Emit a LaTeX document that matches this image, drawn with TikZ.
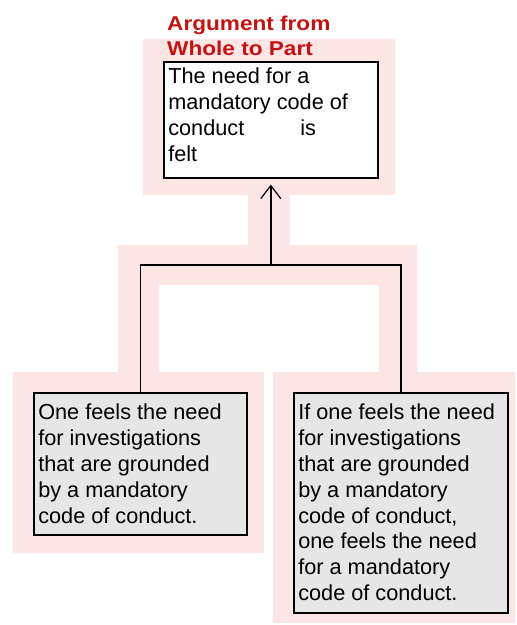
\documentclass[tikz,border=0pt]{standalone}
\usepackage{fontspec}
\setmainfont{Liberation Sans}
\usetikzlibrary{arrows.meta}
\definecolor{halo}{RGB}{252,229,229}
\definecolor{premfill}{RGB}{230,230,230}
\definecolor{titlered}{RGB}{196,18,18}
% boxed claim text: width, height, first baseline offset, lines
\newcommand{\claimtext}[4]{%
  \parbox[t][#2][t]{#1}{\fontsize{21.7}{25.8}\selectfont
    \raggedright\setlength{\leftskip}{4.5pt}\rule{0pt}{#3}#4}}
\tikzset{
  claimbox/.style={draw=black, line width=1.6pt, inner sep=0pt, anchor=north west},
  premise/.style={claimbox, fill=premfill},
  conclusion/.style={claimbox, fill=white},
  link/.style={draw=black, line width=1.6pt},
}
\begin{document}
\begin{tikzpicture}[x=1pt, y=-1pt]
\useasboundingbox (0,0) rectangle (517,625);
% pale highlight behind nodes and connectors
\fill[halo] (143,39) rectangle (395,195);
\fill[halo] (248,195) rectangle (290,245);
\fill[halo, even odd rule] (118,245) rectangle (417,372) (159,285) rectangle (379,372);
\fill[halo] (13,372) rectangle (264,553);
\fill[halo] (273,372) rectangle (515,623);
% title
\node[anchor=base west, inner sep=0pt, text=titlered, align=left,
      font=\fontsize{20}{24.5}\selectfont\bfseries] (title) at (167,55)
  {\scalebox{1.13}[1]{Argument from}\\\scalebox{1.13}[1]{Whole to Part}};
% conclusion
\node[conclusion] (top) at (163,61)
  {\claimtext{214pt}{116pt}{22pt}{The need for a\\mandatory code of\\conduct\hspace{56pt}is\\felt}};
% premises
\node[premise] (left) at (33,392)
  {\claimtext{213pt}{142pt}{27pt}{One feels the need\\for investigations\\that are grounded\\by a mandatory\\code of conduct.}};
\node[premise] (right) at (293,392)
  {\claimtext{214pt}{220pt}{27pt}{If one feels the need\\for investigations\\that are grounded\\by a mandatory\\code of conduct,\\one feels the need\\for a mandatory\\code of conduct.}};
% connectors
\coordinate (join) at (top.south |- 0,265);
\draw[link] (left.north) |- (join) -| (right.north);
\draw[link, -{Straight Barb[length=13pt, width=20pt, line width=1.2pt]}, shorten >=6pt] (join) -- (top.south);
\end{tikzpicture}
\end{document}
